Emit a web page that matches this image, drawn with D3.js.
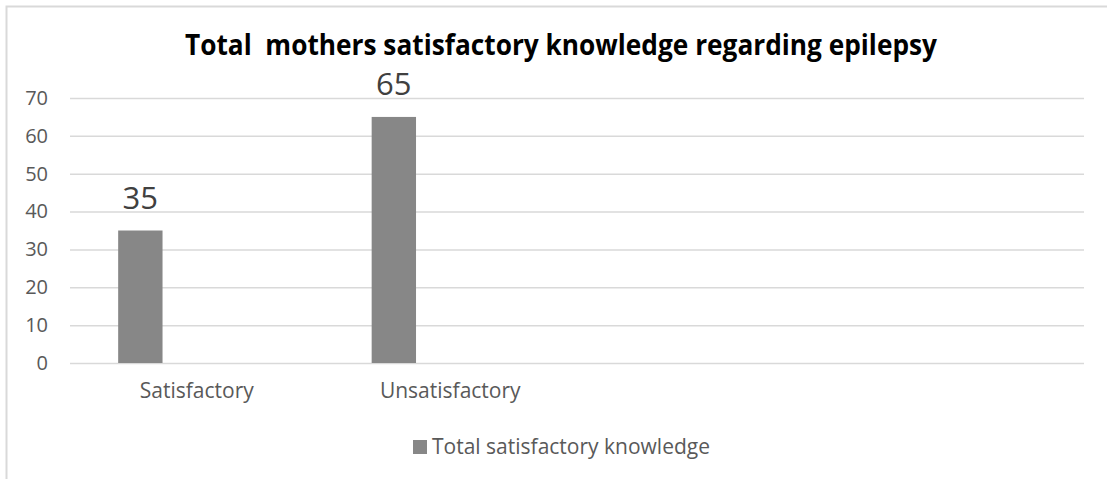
<!DOCTYPE html>
<html>
<head>
<meta charset="utf-8">
<script src="https://cdn.jsdelivr.net/npm/d3@7"></script>
<style>
  html, body { margin: 0; padding: 0; background: #fff; }
  svg { display: block; font-family: "Open Sans", sans-serif; }
</style>
</head>
<body>
<div id="chart"></div>
<script>
// ---- data ----
const categories = ["Satisfactory", "Unsatisfactory", "empty1", "empty2"];
const values = [35, 65, null, null];
const seriesName = "Total satisfactory knowledge";
const yTicks = [0, 10, 20, 30, 40, 50, 60, 70];
const title = "Total  mothers satisfactory knowledge regarding epilepsy";

const WIDTH = 1107;
const HEIGHT = 479;
const margin = { top: 98, right: 23, bottom: 116, left: 70 };
const innerW = WIDTH - margin.left - margin.right;
const innerH = HEIGHT - margin.top - margin.bottom;

const barColor = "#878787";
const gridColor = "#d9d9d9";
const textColor = "#595959";

const svg = d3.select("#chart")
  .append("svg")
  .attr("width", WIDTH)
  .attr("height", HEIGHT);

// chart area border (only left and top are visible in the picture)
svg.append("path")
  .attr("d", `M6.5,${HEIGHT} V6.5 H${WIDTH}`)
  .attr("fill", "none")
  .attr("stroke", gridColor)
  .attr("stroke-width", 2);

const g = svg.append("g")
  .attr("transform", `translate(${margin.left},${margin.top})`);

// scales
const x = d3.scaleBand()
  .domain(categories)
  .range([0, innerW]);

const y = d3.scaleLinear()
  .domain([0, 70])
  .range([innerH, 0]);

// y axis + gridlines
const yAxis = g.append("g")
  .call(d3.axisLeft(y).tickValues(yTicks).tickSize(-innerW).tickPadding(22));
yAxis.select(".domain").remove();
yAxis.selectAll(".tick line")
  .attr("stroke", gridColor)
  .attr("stroke-width", 1.5);
yAxis.selectAll(".tick text")
  .attr("fill", textColor)
  .attr("font-size", 20)
  .attr("font-family", "Open Sans, sans-serif");

// x axis labels
const xAxis = g.append("g")
  .attr("transform", `translate(0,${innerH})`)
  .call(d3.axisBottom(x).tickSize(0).tickPadding(20)
    .tickFormat(d => d.startsWith("empty") ? "" : d));
xAxis.select(".domain").remove();
xAxis.selectAll(".tick text")
  .attr("fill", textColor)
  .attr("font-size", 21)
  .attr("font-family", "Open Sans, sans-serif");

// bars
const data = categories.map((c, i) => ({ cat: c, value: values[i] }))
  .filter(d => d.value != null);

const barOffset = x.bandwidth() * 0.19;
const barWidth = x.bandwidth() * 0.175;

g.append("g")
  .selectAll("rect")
  .data(data)
  .join("rect")
  .attr("x", d => x(d.cat) + barOffset)
  .attr("y", d => y(d.value))
  .attr("width", barWidth)
  .attr("height", d => y(0) - y(d.value))
  .attr("fill", barColor);

// value labels
g.append("g")
  .selectAll("text")
  .data(data)
  .join("text")
  .attr("x", d => x(d.cat) + barOffset + barWidth / 2)
  .attr("y", d => y(d.value) - 22)
  .attr("text-anchor", "middle")
  .attr("font-size", 31)
  .attr("fill", "#404040")
  .text(d => d.value);

// title
svg.append("text")
  .attr("x", 561)
  .attr("y", 55)
  .attr("text-anchor", "middle")
  .attr("font-size", 29)
  .attr("font-weight", "bold")
  .attr("fill", "#000")
  .attr("textLength", 752)
  .attr("lengthAdjust", "spacingAndGlyphs")
  .style("white-space", "pre")
  .text(title);

// legend
const legend = svg.append("g")
  .attr("transform", "translate(413,440)");
legend.append("rect")
  .attr("width", 14)
  .attr("height", 14)
  .attr("fill", barColor);
legend.append("text")
  .attr("x", 19)
  .attr("y", 7)
  .attr("dy", "0.35em")
  .attr("font-size", 21)
  .attr("fill", textColor)
  .text(seriesName);
</script>
</body>
</html>
